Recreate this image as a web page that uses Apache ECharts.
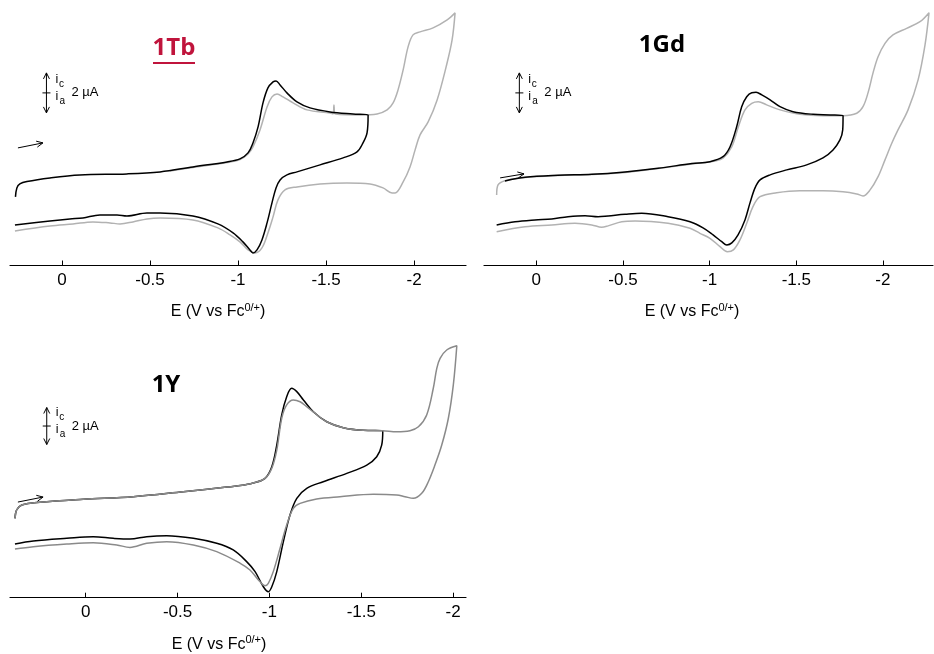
<!DOCTYPE html>
<html><head><meta charset="utf-8">
<script src="https://cdn.jsdelivr.net/npm/echarts@6/dist/echarts.min.js"></script>
<style>html,body{margin:0;padding:0;background:#fff}#c{width:934px;height:654px}</style>
</head><body><div id="c"></div>
<script>
// ---- tick labels (E / V vs Fc0/+) ----
const tickValues = [0, -0.5, -1, -1.5, -2];
const panelTitles = ['1Tb', '1Gd', '1Y'];

// ---- 1Tb (E in V, i in µA, cathodic up) ----
const tbBlackE = [0.264,0.256,0.239,0.199,0.068,-0.102,-0.369,-0.557,-0.744,-0.938,-1.011,-1.057,-1.085,-1.114,-1.142,-1.170,-1.199,-1.216,-1.239,-1.278,-1.335,-1.409,-1.523,-1.653,-1.739,
  -1.733,-1.710,-1.676,-1.597,-1.466,-1.335,-1.278,-1.239,-1.216,-1.193,-1.165,-1.136,-1.108,-1.085,-1.068,-1.028,-0.972,-0.886,-0.744,-0.557,-0.483,-0.369,-0.313,-0.216,-0.119,-0.045,0.068,0.267];
const tbBlackI = [3.43,3.88,4.08,4.2,4.38,4.53,4.58,4.68,4.93,5.18,5.33,5.63,6.13,6.93,8.13,8.88,9.18,9.23,9.03,8.63,8.18,7.88,7.68,7.58,7.53,
  6.63,6.13,5.68,5.38,5.03,4.68,4.53,4.28,3.88,3.13,2.13,1.28,0.78,0.63,0.78,1.18,1.63,2.08,2.48,2.63,2.63,2.48,2.53,2.53,2.38,2.33,2.23,2.03];
const tbGrayE = [-0.614,-0.744,-0.938,-1.011,-1.057,-1.085,-1.125,-1.165,-1.193,-1.222,-1.256,-1.313,-1.392,-1.523,-1.540,-1.545,-1.551,-1.693,-1.790,-1.847,-1.881,-1.909,-1.938,-1.966,-1.994,-2.034,-2.108,-2.188,-2.233,
  -2.216,-2.182,-2.131,-2.080,-2.034,-2.006,-1.977,-1.938,-1.892,-1.875,-1.824,-1.750,-1.619,-1.466,-1.335,-1.267,-1.227,-1.199,-1.170,-1.136,-1.097,-1.057,-1.011,-0.955,-0.886,-0.744,-0.557,-0.483,-0.403,-0.330,-0.273,-0.176,-0.063,0.068,0.267];
const tbGrayI = [4.73,4.9,5.15,5.3,5.58,5.93,6.78,7.93,8.43,8.58,8.43,8.13,7.78,7.63,7.58,8.03,7.58,7.53,7.58,7.78,8.13,8.78,9.78,10.93,11.53,11.68,11.88,12.28,12.63,
  11.28,9.93,8.28,7.18,6.53,5.78,4.93,4.18,3.63,3.63,3.88,4.08,4.13,4.08,3.93,3.78,3.28,2.43,1.63,0.88,0.63,0.78,1.18,1.53,1.88,2.28,2.38,2.33,2.18,2.08,2.13,2.18,2.08,1.98,1.73];

// ---- 1Gd ----
const gdBlackE = [0.181,0.065,-0.125,-0.321,-0.512,-0.702,-0.898,-1.002,-1.077,-1.118,-1.156,-1.185,-1.214,-1.243,-1.268,-1.301,-1.349,-1.406,-1.481,-1.597,-1.695,-1.770,
  -1.768,-1.752,-1.712,-1.654,-1.560,-1.445,-1.349,-1.291,-1.262,-1.233,-1.204,-1.164,-1.128,-1.099,-1.070,-1.020,-0.962,-0.887,-0.760,-0.608,-0.512,-0.414,-0.356,-0.281,-0.183,-0.089,0.008,0.123,0.229];
const gdBlackI = [4.23,4.41,4.51,4.56,4.68,4.86,5.10,5.19,5.44,5.94,6.94,7.94,8.44,8.64,8.66,8.53,8.28,7.94,7.69,7.56,7.53,7.49,
  6.78,6.28,5.78,5.38,5.03,4.78,4.53,4.28,3.88,3.13,2.28,1.53,1.13,1.03,1.19,1.53,1.88,2.19,2.44,2.61,2.56,2.48,2.44,2.49,2.44,2.33,2.28,2.19,2.03];
const gdGrayE = [0.229,0.221,0.181,0.065,-0.125,-0.321,-0.512,-0.702,-0.898,-1.031,-1.077,-1.128,-1.166,-1.204,-1.243,-1.281,-1.329,-1.406,-1.521,-1.654,-1.770,-1.849,-1.885,-1.914,-1.943,-1.972,-2.012,-2.058,-2.137,-2.214,-2.266,
  -2.243,-2.203,-2.145,-2.087,-2.051,-2.012,-1.972,-1.926,-1.885,-1.849,-1.770,-1.654,-1.521,-1.387,-1.291,-1.250,-1.214,-1.175,-1.137,-1.102,-1.060,-1.002,-0.944,-0.887,-0.760,-0.570,-0.493,-0.414,-0.377,-0.320,-0.223,-0.089,0.065,0.229];
const gdGrayI = [3.53,4.03,4.24,4.40,4.50,4.55,4.65,4.85,5.08,5.23,5.36,5.94,6.94,7.78,8.11,8.19,8.03,7.78,7.56,7.49,7.49,7.61,7.94,8.63,9.63,10.44,11.11,11.53,11.86,12.19,12.64,
  11.03,9.28,7.78,6.78,6.11,5.28,4.44,3.78,3.48,3.58,3.69,3.74,3.74,3.64,3.44,2.94,2.11,1.28,0.78,0.69,0.94,1.36,1.61,1.86,2.11,2.23,2.19,1.98,1.91,2.03,2.11,2.03,1.94,1.69];

// ---- 1Y ----
const yBlackE = [0.385,0.376,0.348,0.249,0.013,-0.259,-0.531,-0.768,-0.841,-0.911,-0.976,-1.013,-1.040,-1.067,-1.094,-1.121,-1.149,-1.185,-1.239,-1.312,-1.402,-1.511,-1.617,
  -1.611,-1.584,-1.530,-1.421,-1.293,-1.203,-1.149,-1.112,-1.076,-1.040,-1.013,-0.994,-0.967,-0.922,-0.876,-0.803,-0.713,-0.586,-0.441,-0.332,-0.241,-0.150,-0.041,0.103,0.285,0.385];
const yBlackI = [4.29,4.74,5.01,5.16,5.32,5.46,5.73,5.98,6.06,6.2,6.45,7.08,8.25,9.88,10.86,11.32,11.14,10.69,10.05,9.51,9.19,9.05,9.03,
  8.25,7.62,7.17,6.72,6.27,5.91,5.37,4.47,3.03,1.41,0.59,0.32,0.59,1.41,1.95,2.58,2.94,3.21,3.35,3.30,3.17,3.21,3.30,3.21,3.06,2.90];
const yGrayE = [0.385,0.376,0.348,0.249,0.013,-0.259,-0.531,-0.768,-0.841,-0.911,-0.976,-1.013,-1.040,-1.067,-1.094,-1.130,-1.167,-1.203,-1.239,-1.312,-1.402,-1.511,-1.617,-1.693,-1.765,-1.811,-1.856,-1.892,-1.911,-1.929,-1.965,-2.020,
  -2.001,-1.974,-1.938,-1.901,-1.865,-1.829,-1.783,-1.738,-1.693,-1.566,-1.384,-1.257,-1.167,-1.130,-1.094,-1.058,-1.021,-0.994,-0.976,-0.949,-0.894,-0.841,-0.713,-0.586,-0.441,-0.332,-0.241,-0.169,-0.041,0.103,0.285,0.385];
const yGrayI = [4.29,4.74,5.01,5.16,5.32,5.46,5.73,5.98,6.06,6.2,6.45,7.0,7.98,9.70,10.42,10.69,10.59,10.32,10.04,9.51,9.19,9.05,9.03,8.97,9.03,9.24,9.88,11.32,12.40,12.94,13.39,13.62,
  11.50,9.70,8.25,7.17,6.27,5.64,5.37,5.46,5.55,5.59,5.46,5.34,5.10,4.83,3.93,2.67,1.41,0.78,0.65,0.86,1.50,1.86,2.49,2.85,3.03,2.94,2.72,2.85,2.97,2.90,2.76,2.63];

// ---- scale bars (centre E, centre i, half length in µA) ----
const scaleBarE = [0.088, 0.098, 0.212];
const scaleBarI = [8.63, 8.63, 9.28];
const scaleBarHalf = [1, 1, 1];
const scaleBarLabel = '2 µA';

// ---- scan-direction arrows [E1, i1, E2, i2] ----
const scanArrowStart = [[0.25, 5.88], [0.209, 4.38], [0.369, 5.17]];
const scanArrowEnd = [[0.108, 6.13], [0.071, 4.58], [0.232, 5.44]];

const zip = (a, b) => a.map((v, k) => [v, b[k]]);
const FONT = 'Liberation Sans';

function xAxisCfg(idx, min, max, padRight) {
  return {
    gridIndex: idx, type: 'value', inverse: true, min: min, max: max,
    axisLine: { onZero: false, lineStyle: { color: '#000', width: 1.2 } },
    axisTick: { inside: true, length: 5, customValues: tickValues, lineStyle: { color: '#000', width: 1 } },
    axisLabel: { customValues: tickValues, margin: 6, fontSize: 17, color: '#000', fontFamily: FONT, formatter: v => String(v) },
    splitLine: { show: false },
    name: '{a|E (V vs Fc}{s|0/+}{a|)}', nameLocation: 'middle', nameGap: 37,
    nameTextStyle: {
      padding: [0, padRight, 0, 0],
      rich: {
        a: { fontSize: 16, fontFamily: FONT, color: '#000' },
        s: { fontSize: 11, fontFamily: FONT, color: '#000', padding: [0, 0, 8, 0] }
      }
    }
  };
}
function yAxisCfg(idx, max) {
  return { gridIndex: idx, type: 'value', min: 0, max: max, show: false, splitLine: { show: false } };
}
function lineSeries(idx, data, color, z) {
  return { type: 'line', xAxisIndex: idx, yAxisIndex: idx, data: data, showSymbol: false, symbol: 'none',
    smooth: 0.35, z: z, lineStyle: { color: color, width: 1.5 }, silent: true, clip: false };
}
function renderScaleBar(params, api) {
  const e = api.value(0), i = api.value(1), h = api.value(2);
  const top = api.coord([e, i + h]), mid = api.coord([e, i]), bot = api.coord([e, i - h]);
  const x = mid[0], y = mid[1];
  const st = { stroke: '#000', lineWidth: 1, fill: null };
  const txt = (t, dx, dy, fs) => ({ type: 'text', style: { text: t, x: x + dx, y: y + dy, fontSize: fs, fontFamily: FONT, fill: '#000', align: 'left', verticalAlign: 'middle' } });
  return { type: 'group', children: [
    { type: 'line', shape: { x1: x, y1: top[1], x2: x, y2: bot[1] }, style: st },
    { type: 'polyline', shape: { points: [[x - 3, top[1] + 6], [x, top[1]], [x + 3, top[1] + 6]] }, style: st },
    { type: 'polyline', shape: { points: [[x - 3, bot[1] - 6], [x, bot[1]], [x + 3, bot[1] - 6]] }, style: st },
    { type: 'line', shape: { x1: x - 4, y1: y, x2: x + 4, y2: y }, style: st },
    txt('i', 9, -13, 12.5), txt('c', 12.5, -9, 10), txt('i', 9, 4, 12.5), txt('a', 13, 8, 10), txt(scaleBarLabel, 25, 0, 13)
  ] };
}
function renderArrow(params, api) {
  const p1 = api.coord([api.value(0), api.value(1)]);
  const p2 = api.coord([api.value(2), api.value(3)]);
  const a = Math.atan2(p2[1] - p1[1], p2[0] - p1[0]);
  const L = 7, w = 0.45;
  const h1 = [p2[0] - L * Math.cos(a - w), p2[1] - L * Math.sin(a - w)];
  const h2 = [p2[0] - L * Math.cos(a + w), p2[1] - L * Math.sin(a + w)];
  const st = { stroke: '#000', lineWidth: 1, fill: null };
  return { type: 'group', children: [
    { type: 'line', shape: { x1: p1[0], y1: p1[1], x2: p2[0], y2: p2[1] }, style: st },
    { type: 'polyline', shape: { points: [h1, p2, h2] }, style: st }
  ] };
}
function extras(idx) {
  return [
    { type: 'custom', xAxisIndex: idx, yAxisIndex: idx, renderItem: renderScaleBar, clip: false, silent: true, z: 10,
      encode: { x: 0, y: 1 }, data: [[scaleBarE[idx], scaleBarI[idx], scaleBarHalf[idx]]] },
    { type: 'custom', xAxisIndex: idx, yAxisIndex: idx, renderItem: renderArrow, clip: false, silent: true, z: 10,
      encode: { x: [0, 2], y: [1, 3] }, data: [[scanArrowStart[idx][0], scanArrowStart[idx][1], scanArrowEnd[idx][0], scanArrowEnd[idx][1]]] }
  ];
}

const GRAY12 = '#b2b2b2', GRAY3 = '#8a8a8a';
const TITLE_FONT = { fontSize: 24, fontWeight: 'bold', fontFamily: 'Open Sans', align: 'center', verticalAlign: 'middle' };
const option = {
  animation: false,
  backgroundColor: '#fff',
  grid: [
    { left: 10, right: 468, top: 10, bottom: 388.5 },
    { left: 484, right: 1, top: 10, bottom: 388.5 },
    { left: 10, right: 468, top: 335, bottom: 56.3 }
  ],
  xAxis: [ xAxisCfg(0, -2.295, 0.295, 40), xAxisCfg(1, -2.289, 0.302, 33), xAxisCfg(2, -2.070, 0.412, 38) ],
  yAxis: [ yAxisCfg(0, 12.775), yAxisCfg(1, 12.775), yAxisCfg(2, 14.2) ],
  graphic: [
    { type: 'text', x: 174, y: 48, style: Object.assign({ text: panelTitles[0], fill: '#C0143C' }, TITLE_FONT) },
    { type: 'line', shape: { x1: 153, y1: 63, x2: 195, y2: 63 }, style: { stroke: '#C0143C', lineWidth: 2 } },
    { type: 'text', x: 662, y: 45, style: Object.assign({ text: panelTitles[1], fill: '#000' }, TITLE_FONT) },
    { type: 'text', x: 166, y: 385.5, style: Object.assign({ text: panelTitles[2], fill: '#000' }, TITLE_FONT) }
  ],
  series: [
    lineSeries(0, zip(tbGrayE, tbGrayI), GRAY12, 2),
    lineSeries(0, zip(tbBlackE, tbBlackI), '#000', 3),
    lineSeries(1, zip(gdGrayE, gdGrayI), GRAY12, 2),
    lineSeries(1, zip(gdBlackE, gdBlackI), '#000', 3),
    lineSeries(2, zip(yBlackE, yBlackI), '#000', 2),
    lineSeries(2, zip(yGrayE, yGrayI), GRAY3, 3),
    ...extras(0), ...extras(1), ...extras(2)
  ]
};
const chart = echarts.init(document.getElementById('c'), null, { renderer: 'canvas' });
chart.setOption(option);
</script>
</body></html>
